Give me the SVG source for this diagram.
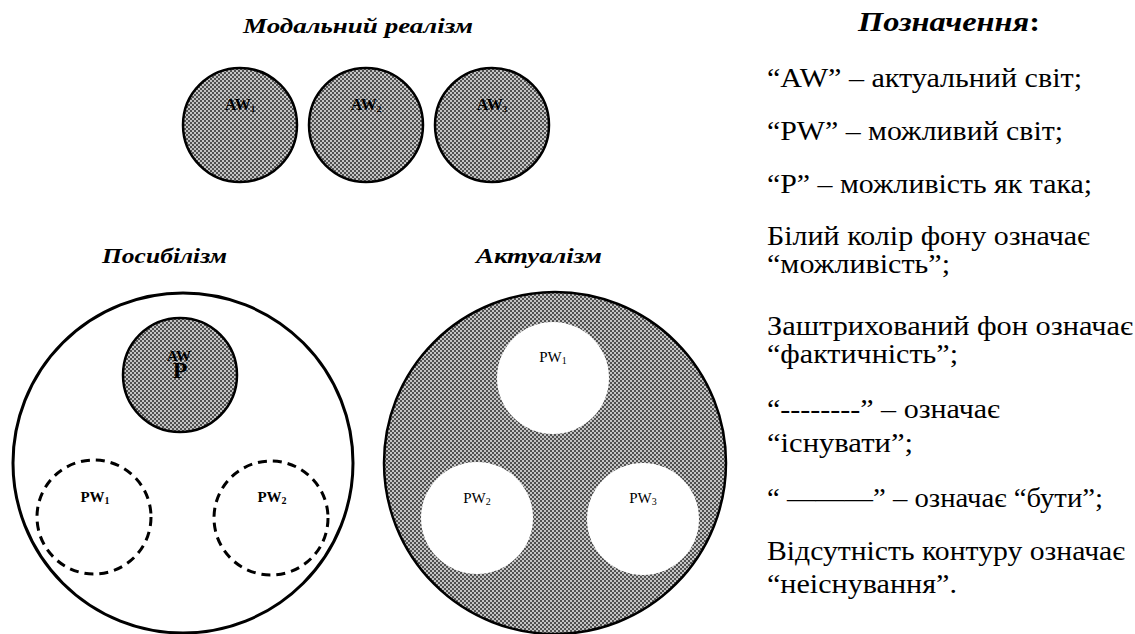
<svg xmlns="http://www.w3.org/2000/svg" width="1135" height="634" viewBox="0 0 1135 634">
<style>
.title{font-family:"Liberation Serif","DejaVu Serif",serif;font-weight:bold;font-style:italic;fill:#000}
.leg{font-family:"Liberation Serif","DejaVu Serif",serif;font-size:27px;fill:#000}
.lbl{font-family:"Liberation Serif","DejaVu Serif",serif;fill:#000;text-anchor:middle}
.b{font-weight:bold}
.world{fill:url(#hatch);stroke:#000;stroke-width:2.5}
.dash{fill:none;stroke:#000;stroke-width:3;stroke-dasharray:9 6}
.hole{fill:#fff;stroke:none}
</style>
<defs>
<pattern id="hatch" width="4" height="4" patternUnits="userSpaceOnUse">
<rect width="4" height="4" fill="#c4c4c4"/>
<rect width="2" height="2" fill="#505050"/>
<rect x="2" y="2" width="2" height="2" fill="#505050"/>
</pattern>
</defs>
<rect width="1135" height="634" fill="#fff"/>

<g id="modal-realism">
<text class="title" x="243" y="33" font-size="21" textLength="230" lengthAdjust="spacingAndGlyphs">Модальний реалізм</text>
<g id="aw1"><circle class="world" cx="240" cy="125" r="57"/><text class="lbl b" x="240" y="110" font-size="16">AW<tspan font-size="9" dy="2">1</tspan></text></g>
<g id="aw2"><circle class="world" cx="366" cy="125" r="57"/><text class="lbl b" x="366" y="110" font-size="16">AW<tspan font-size="9" dy="2">2</tspan></text></g>
<g id="aw3"><circle class="world" cx="492" cy="125" r="57"/><text class="lbl b" x="492" y="110" font-size="16">AW<tspan font-size="9" dy="2">3</tspan></text></g>
</g>

<g id="possibilism">
<text class="title" x="102" y="263" font-size="21" textLength="125" lengthAdjust="spacingAndGlyphs">Посибілізм</text>
<circle cx="183" cy="463" r="170" fill="#fff" stroke="#000" stroke-width="3"/>
<g id="aw-p"><circle class="world" cx="180" cy="375" r="57" stroke-width="2"/>
<text class="lbl b" x="179" y="361" font-size="15">AW</text>
<text class="lbl b" x="180" y="378" font-size="24">P</text></g>
<g id="pw1-dashed"><circle class="dash" cx="94" cy="517" r="57"/><text class="lbl b" x="95" y="502" font-size="15">PW<tspan font-size="10" dy="2">1</tspan></text></g>
<g id="pw2-dashed"><circle class="dash" cx="271" cy="518" r="57"/><text class="lbl b" x="272" y="502" font-size="15">PW<tspan font-size="10" dy="2">2</tspan></text></g>
</g>

<g id="actualism">
<text class="title" x="476" y="263" font-size="21" textLength="126" lengthAdjust="spacingAndGlyphs">Актуалізм</text>
<circle class="world" cx="555" cy="463" r="171" stroke-width="2"/>
<g id="pw1-white"><circle class="hole" cx="553" cy="378" r="56"/><text class="lbl" x="553" y="362" font-size="15">PW<tspan font-size="10" dy="2">1</tspan></text></g>
<g id="pw2-white"><circle class="hole" cx="477" cy="518" r="56"/><text class="lbl" x="477" y="503" font-size="15">PW<tspan font-size="10" dy="2">2</tspan></text></g>
<g id="pw3-white"><circle class="hole" cx="643" cy="519" r="56"/><text class="lbl" x="643" y="503" font-size="15">PW<tspan font-size="10" dy="2">3</tspan></text></g>
</g>

<g id="connectors"/>

<g id="legend">
<text class="title" x="858" y="31" font-size="27" textLength="182" lengthAdjust="spacingAndGlyphs"><tspan>Позначення</tspan><tspan font-style="normal">:</tspan></text>
<text class="leg" x="767" y="87" textLength="315" lengthAdjust="spacingAndGlyphs">“AW” – актуальний світ;</text>
<text class="leg" x="767" y="140" textLength="296" lengthAdjust="spacingAndGlyphs">“PW” – можливий світ;</text>
<text class="leg" x="767" y="193" textLength="325" lengthAdjust="spacingAndGlyphs">“P” – можливість як така;</text>
<text class="leg" x="767" y="245" textLength="323" lengthAdjust="spacingAndGlyphs">Білий колір фону означає</text>
<text class="leg" x="767" y="273" textLength="183" lengthAdjust="spacingAndGlyphs">“можливість”;</text>
<text class="leg" x="767" y="335" textLength="366" lengthAdjust="spacingAndGlyphs">Заштрихований фон означає</text>
<text class="leg" x="767" y="363" textLength="191" lengthAdjust="spacingAndGlyphs">“фактичність”;</text>
<text class="leg" x="767" y="418" textLength="233" lengthAdjust="spacingAndGlyphs">“--------” – означає</text>
<text class="leg" x="767" y="452" textLength="146" lengthAdjust="spacingAndGlyphs">“існувати”;</text>
<text class="leg" x="767" y="507" textLength="336" lengthAdjust="spacingAndGlyphs">“ ———” – означає “бути”;</text>
<text class="leg" x="767" y="560" textLength="358" lengthAdjust="spacingAndGlyphs">Відсутність контуру означає</text>
<text class="leg" x="767" y="593" textLength="190" lengthAdjust="spacingAndGlyphs">“неіснування”.</text>
</g>
</svg>
